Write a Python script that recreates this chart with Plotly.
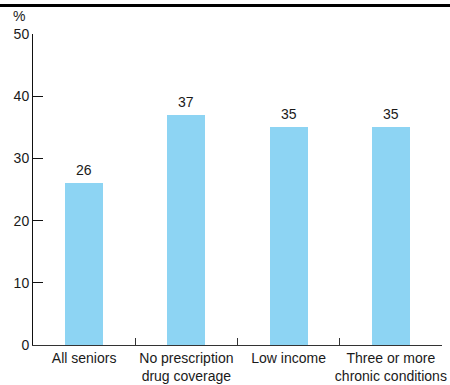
import plotly.graph_objects as go

# Share of seniors in each group
categories = ["All seniors", "No prescription<br>drug coverage", "Low income",
              "Three or more<br>chronic conditions"]
values = [26, 37, 35, 35]
y_ticks = [0, 10, 20, 30, 40, 50]

W, H = 450, 385
ML, MR, MT, MB = 33, 8, 34, 40
pw = W - ML - MR
ph = H - MT - MB

font = dict(family="Liberation Sans, Arial, sans-serif", size=14, color="#1a1a1a")

fig = go.Figure(go.Bar(
    x=categories,
    y=values,
    marker=dict(color="#8DD4F3", line=dict(width=0)),
    width=0.37,
    cliponaxis=False,
))

# Value labels above each bar
for cat, v in zip(categories, values):
    fig.add_annotation(
        x=cat, y=v, text=str(v), showarrow=False,
        xanchor="center", yanchor="bottom", yshift=3, font=font,
    )

fig.update_layout(
    width=W, height=H,
    margin=dict(l=ML, r=MR, t=MT, b=MB, autoexpand=False),
    paper_bgcolor="white", plot_bgcolor="white",
    font=font,
    showlegend=False,
    bargap=0,
    xaxis=dict(
        type="category",
        showline=True, linecolor="#333333", linewidth=1,
        ticks="inside", ticklen=7, tickcolor="#333333",
        tickson="boundaries",
        tickangle=0, automargin=False,
        showgrid=False, zeroline=False,
        tickfont=font,
    ),
    yaxis=dict(
        range=[0, 50],
        tickvals=y_ticks,
        showline=True, linecolor="#111111", linewidth=1,
        ticks="inside", ticklen=10, tickcolor="#111111",
        automargin=False,
        showgrid=False, zeroline=False,
        tickfont=font,
    ),
    shapes=[dict(
        type="line", xref="paper", yref="paper",
        x0=-ML / pw, x1=(W - ML) / pw,
        y0=(ph + MT - 5.5) / ph, y1=(ph + MT - 5.5) / ph,
        line=dict(color="black", width=3),
    )],
)
fig.add_annotation(
    text="%", xref="paper", yref="paper",
    x=(19 - ML) / pw, y=(ph + MT - 16) / ph,
    xanchor="center", yanchor="middle",
    showarrow=False, font=font,
)

fig.write_html("out.html")
